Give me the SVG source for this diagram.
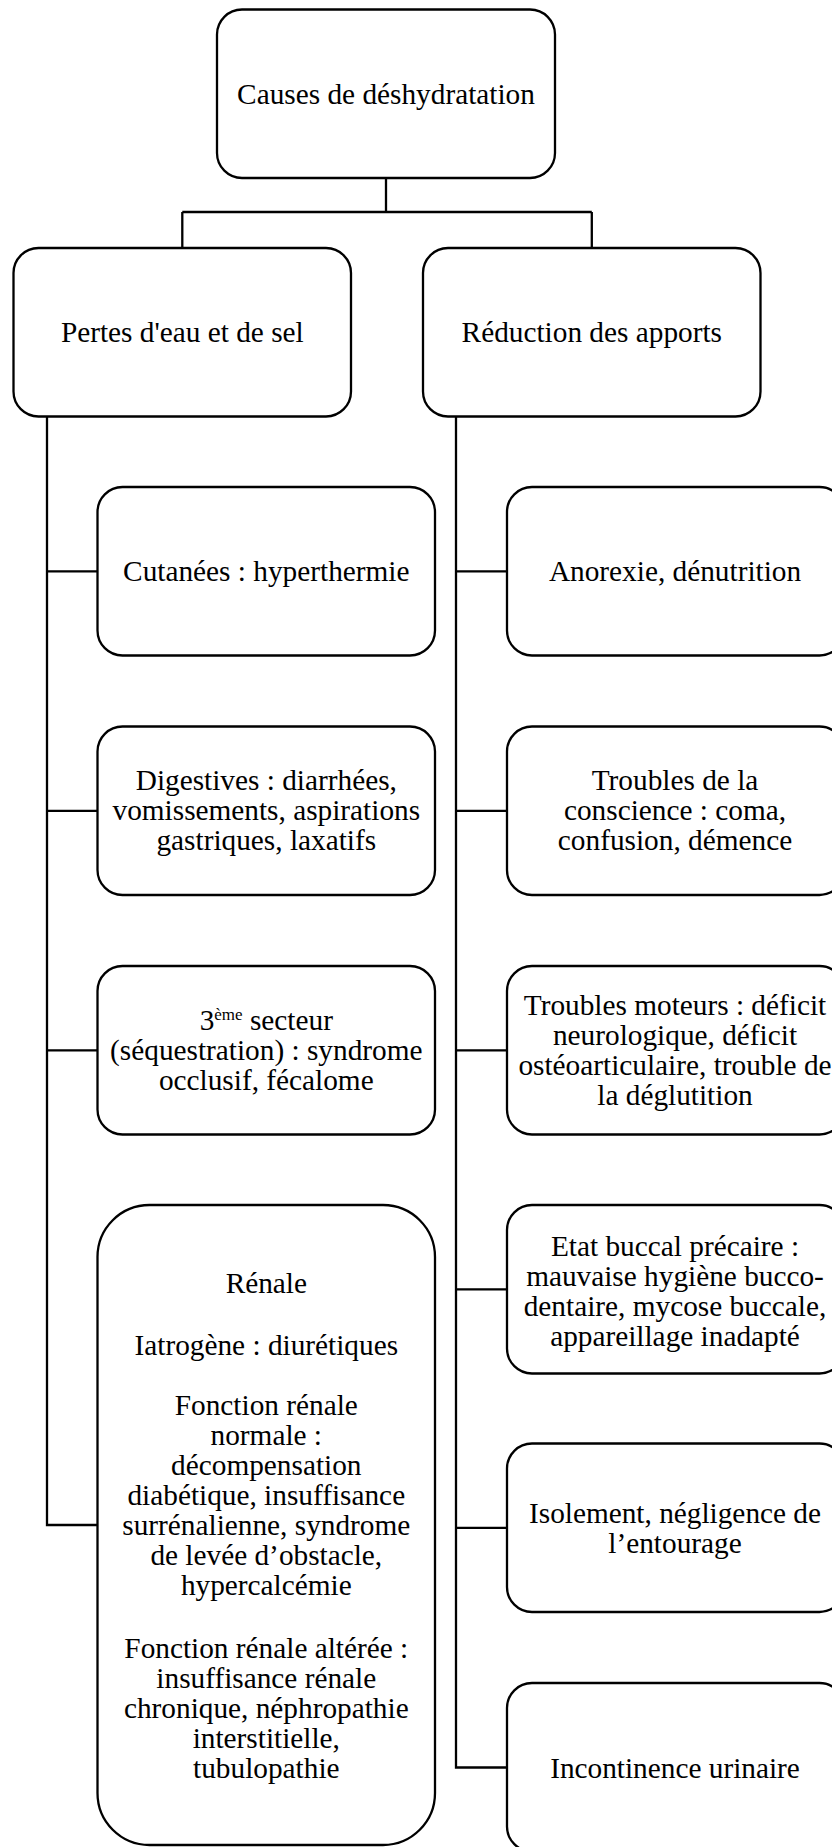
<svg xmlns="http://www.w3.org/2000/svg" width="832" height="1847" viewBox="0 0 832 1847">
<style>
.box{fill:#fff;stroke:#000;stroke-width:2.3}
.con{fill:none;stroke:#000;stroke-width:2.3}
.t text{font-size:29.3px;fill:#000;text-anchor:middle}
.sup{font-size:17px}
</style>
<rect width="832" height="1847" fill="#fff"/>
<g id="connectors">
<path class="con" d="M386 178 V212 M182.3 212 H591.8 M182.3 212 V248 M591.8 212 V248"/>
<path class="con" d="M47 416.5 V1525 H97.5 M47 571.3 H97.5 M47 810.8 H97.5 M47 1050.3 H97.5"/>
<path class="con" d="M456 416.5 V1767.5 H507 M456 571.3 H507 M456 810.8 H507 M456 1050.3 H507 M456 1289.3 H507 M456 1527.8 H507"/>
</g>
<g class="t" font-family="Liberation Serif, Times New Roman, serif">
<g id="root"><rect class="box" x="217" y="9.5" width="338" height="168.5" rx="25"/><text x="386" y="104">Causes de déshydratation</text></g>
<g id="pertes"><rect class="box" x="13.5" y="248" width="337.5" height="168.5" rx="25"/><text x="182.3" y="342">Pertes d'eau et de sel</text></g>
<g id="reduction"><rect class="box" x="423" y="248" width="337.5" height="168.5" rx="25"/><text x="591.8" y="342">Réduction des apports</text></g>
<g id="cutanees"><rect class="box" x="97.5" y="487" width="337.5" height="168.5" rx="25"/><text x="266.3" y="581">Cutanées : hyperthermie</text></g>
<g id="digestives"><rect class="box" x="97.5" y="726.5" width="337.5" height="168.5" rx="25"/><text x="266.3" y="790">Digestives : diarrhées,</text><text x="266.3" y="820">vomissements, aspirations</text><text x="266.3" y="850">gastriques, laxatifs</text></g>
<g id="secteur"><rect class="box" x="97.5" y="966" width="337.5" height="168.5" rx="25"/><text x="266.3" y="1030">3<tspan class="sup" dy="-10">ème</tspan><tspan dy="10"> secteur</tspan></text><text x="266.3" y="1060">(séquestration) : syndrome</text><text x="266.3" y="1090">occlusif, fécalome</text></g>
<g id="renale"><rect class="box" x="97.5" y="1205" width="337.5" height="640" rx="52"/>
<text x="266.3" y="1293">Rénale</text>
<text x="266.3" y="1355">Iatrogène : diurétiques</text>
<text x="266.3" y="1415">Fonction rénale</text>
<text x="266.3" y="1445">normale :</text>
<text x="266.3" y="1475">décompensation</text>
<text x="266.3" y="1505">diabétique, insuffisance</text>
<text x="266.3" y="1535">surrénalienne, syndrome</text>
<text x="266.3" y="1565">de levée d’obstacle,</text>
<text x="266.3" y="1595">hypercalcémie</text>
<text x="266.3" y="1658">Fonction rénale altérée :</text>
<text x="266.3" y="1688">insuffisance rénale</text>
<text x="266.3" y="1718">chronique, néphropathie</text>
<text x="266.3" y="1748">interstitielle,</text>
<text x="266.3" y="1778">tubulopathie</text>
</g>
<g id="anorexie"><rect class="box" x="507" y="487" width="337.5" height="168.5" rx="25"/><text x="675" y="581">Anorexie, dénutrition</text></g>
<g id="conscience"><rect class="box" x="507" y="726.5" width="337.5" height="168.5" rx="25"/><text x="675" y="790">Troubles de la</text><text x="675" y="820">conscience : coma,</text><text x="675" y="850">confusion, démence</text></g>
<g id="moteurs"><rect class="box" x="507" y="966" width="337.5" height="168.5" rx="25"/><text x="675" y="1015">Troubles moteurs : déficit</text><text x="675" y="1045">neurologique, déficit</text><text x="675" y="1075">ostéoarticulaire, trouble de</text><text x="675" y="1105">la déglutition</text></g>
<g id="buccal"><rect class="box" x="507" y="1205" width="337.5" height="168.5" rx="25"/><text x="675" y="1256">Etat buccal précaire :</text><text x="675" y="1286">mauvaise hygiène bucco-</text><text x="675" y="1316">dentaire, mycose buccale,</text><text x="675" y="1346">appareillage inadapté</text></g>
<g id="isolement"><rect class="box" x="507" y="1443.5" width="337.5" height="168.5" rx="25"/><text x="675" y="1523">Isolement, négligence de</text><text x="675" y="1553">l’entourage</text></g>
<g id="incontinence"><rect class="box" x="507" y="1683" width="337.5" height="168.5" rx="25"/><text x="675" y="1778">Incontinence urinaire</text></g>
</g>
</svg>
